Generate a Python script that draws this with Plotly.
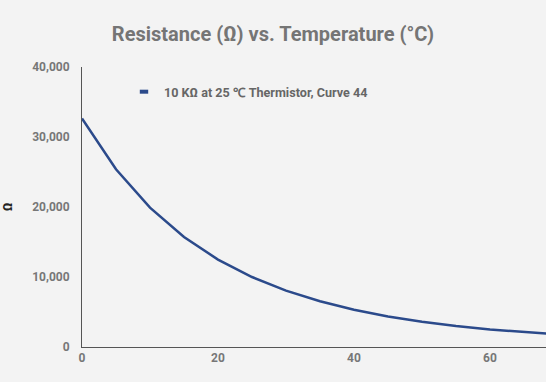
import plotly.graph_objects as go

temperature_c = [0, 5, 10, 15, 20, 25, 30, 35, 40, 45, 50, 55, 60, 65, 70, 75]
resistance_ohm = [32650, 25390, 19900, 15710, 12490, 10000, 8057, 6531, 5327,
                  4369, 3603, 2986, 2488, 2083, 1752, 1481]
series_name = "10 KΩ at 25 ℃ Thermistor, Curve 44"
x_ticks = [0, 20, 40, 60]
y_ticks = [0, 10000, 20000, 30000, 40000]

LINE = "#2b4a8b"
W, H = 546, 382
ML, MR, MT, MB = 82, 0, 67, 35
x_max = (W - ML) / 6.8

fig = go.Figure()
fig.add_trace(go.Scatter(x=temperature_c, y=resistance_ohm, mode="lines",
                         line=dict(color=LINE, width=2.5), showlegend=False))
# legend entry with a short thick dash
fig.add_trace(go.Scatter(x=[None], y=[None], mode="markers", name=series_name,
                         marker=dict(symbol="line-ew", size=6,
                                     line=dict(color=LINE, width=4))))

fig.update_layout(
    width=W, height=H,
    margin=dict(l=ML, r=MR, t=MT, b=MB, pad=0, autoexpand=False),
    paper_bgcolor="#f3f3f3", plot_bgcolor="#f3f3f3",
    font=dict(family="Roboto", color="#777777"),
    title=dict(text="Resistance (Ω) vs. Temperature (°C)",
               x=0.5, xanchor="center", y=1 - 34 / H, yanchor="middle",
               font=dict(size=20, color="#757575", weight="bold")),
    legend=dict(x=(124 - ML) / (W - ML), xanchor="left",
                y=(H - MB - 92) / (H - MT - MB), yanchor="middle",
                bgcolor="rgba(0,0,0,0)",
                font=dict(size=12.6, color="#666666", family="Roboto", weight="bold"),
                itemwidth=30),
    xaxis=dict(range=[0, x_max], tickvals=x_ticks, showgrid=False, zeroline=False,
               showline=True, linecolor="#555555", linewidth=1, ticks="",
               automargin=False,
               tickfont=dict(size=12, color="#777777", weight="bold")),
    yaxis=dict(range=[0, 40000], tickvals=y_ticks, tickformat=",", showgrid=False,
               zeroline=False, showline=True, linecolor="#555555", linewidth=1,
               ticks="", automargin=False, ticklabelstandoff=9,
               tickfont=dict(size=12, color="#777777", weight="bold"),
               title=dict(text="Ω", font=dict(size=13, color="#222222", weight="bold"),
                          standoff=28)),
)

fig.write_html("out.html")
